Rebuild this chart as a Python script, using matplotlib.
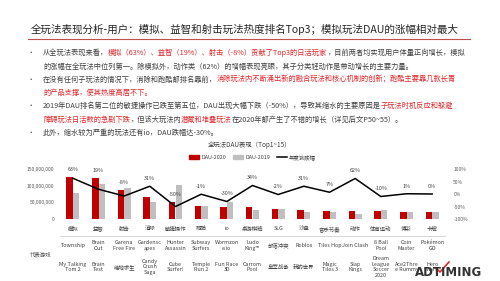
import matplotlib
matplotlib.use("Agg")
import matplotlib.pyplot as plt
from matplotlib.patches import Patch
from matplotlib.lines import Line2D

plt.rcParams['font.family'] = ['Noto Sans CJK SC', 'DejaVu Sans']

W, H = 500, 281
RED = '#C00000'
GRAY = '#BFBFBF'
DARK = '#404040'
TXT_RED = '#E0262B'

# DAU in millions
categories = ['模拟', '益智', '射击', '消除', '敏捷操作', '跑酷', 'io', '桌游棋牌',
              'SLG', '沙盘', '音乐节奏', '动作', '体育运动', '博彩', '卡牌']
dau_2020 = [125, 124, 86, 66, 51, 39, 37, 36, 30, 27, 24, 24, 24, 22, 20]
dau_2019 = [77, 105, 93, 50, 103, 39, 52, 27, 30, 20, 22, 14, 27, 22, 20]
growth = [63, 19, -8, 31, -50, -1, -30, 34, -2, 31, 7, 62, -10, 1, 0]

games_top = ['Township', 'Brain\nOut', 'Garena\nFree Fire', 'Gardensc\napes', 'Hunter\nAssassin',
             'Subway\nSurfers', 'Wormzon\ne.io', 'Ludo\nKing™', '部落冲突', 'Roblox',
             'Tiles Hop', 'Join Clash', '8 Ball\nPool', 'Coin\nMaster', 'Pokémon\nGO']
games_bottom = ['My Talking\nTom 2', 'Brain\nTest', '绝地求生', 'Candy\nCrush\nSaga', 'Cube\nSurfer!',
                'Temple\nRun 2', 'Fun Race\n3D', 'Carrom\nPool', '皇室战争', '我的世界',
                'Magic\nTiles 3', 'Slap\nKings', 'Dream\nLeague\nSoccer\n2020', 'Ace2Thre\ne Rummy',
                'Hero\nWars']

left_ticks = [0, 50e6, 100e6, 150e6]
right_ticks = [-1.0, -0.5, 0.0, 0.5, 1.0]

title = '全玩法表现分析-用户：模拟、益智和射击玩法热度排名Top3；模拟玩法DAU的涨幅相对最大'
bullets = [
    (True, [('从全玩法表现来看，', DARK), ('模拟（63%）、益智（19%）、射击（-8%）贡献了Top3的日活玩家', TXT_RED),
            ('，目前两者均实现用户体量正向增长，模拟', DARK)]),
    (False, [('的涨幅在全玩法中位列第一。除模拟外，动作类（62%）的增幅表现亮眼，其子分类轻动作是带动增长的主要力量。', DARK)]),
    (True, [('在没有任何子玩法的情况下，消除和跑酷都排名靠前，', DARK),
            ('消除玩法内不断涌出新的融合玩法和核心机制的创新；跑酷主要靠几款长青', TXT_RED)]),
    (False, [('的产品支撑，使其热度高居不下。', TXT_RED)]),
    (True, [('2019年DAU排名第二位的敏捷操作已跌至第五位，DAU出现大幅下跌（-50%），导致其缩水的主要原因是', DARK),
            ('子玩法时机反应和躲避', TXT_RED)]),
    (False, [('障碍玩法日活数的急剧下跌', TXT_RED), ('，但该大玩法内', DARK), ('潜藏和堆叠玩法', TXT_RED),
             ('在2020年都产生了不错的增长', DARK), ('（详见后文P50~55）。', DARK)]),
    (True, [('此外，缩水较为严重的玩法还有io，DAU跌幅达-30%。', DARK)]),
]


def fx(x):
    return x / W


def fy(y):
    return 1 - y / H


fig = plt.figure(figsize=(5, 2.81), dpi=100)
fig.patch.set_facecolor('white')
renderer = fig.canvas.get_renderer()

# header
fig.text(fx(31), fy(29), title, fontsize=7.6, color='#262626', va='center', ha='left')
fig.add_artist(Line2D([fx(28), fx(470)], [fy(39), fy(39)], color='#C0504D', lw=0.8))


def rich_line(x, y, parts, size):
    for s, c in parts:
        t = fig.text(fx(x), fy(y), s, color=c, fontsize=size, va='center', ha='left')
        x += t.get_window_extent(renderer=renderer).width


line_y = 53
for has_bullet, parts in bullets:
    if has_bullet:
        fig.text(fx(31), fy(line_y), '•', fontsize=4.5, color=DARK, va='center', ha='center')
    rich_line(43, line_y, parts, 5.2)
    line_y += 13.3

# chart
ax = fig.add_axes([fx(60), fy(219), 385 / W, 50 / H])
x = list(range(len(categories)))
ax.bar([i - 0.125 for i in x], [v * 1e6 for v in dau_2020], width=0.25, color=RED, label='DAU-2020')
ax.bar([i + 0.125 for i in x], [v * 1e6 for v in dau_2019], width=0.25, color=GRAY, label='DAU-2019')
ax.set_xlim(-0.5, len(categories) - 0.5)
ax.set_ylim(0, 150e6)
ax.set_yticks(left_ticks)
ax.set_yticklabels([f'{int(v):,}' for v in left_ticks], fontsize=3.5, color='#595959')
ax.set_xticks([])
ax.tick_params(axis='y', length=0, pad=4)
for s in ax.spines.values():
    s.set_visible(False)

ax2 = ax.twinx()
ax2.plot(x, [g / 100 for g in growth], color='black', lw=1.1)
ax2.set_ylim(-1, 1)
ax2.set_yticks(right_ticks)
ax2.set_yticklabels([f'{int(v * 100)}%' for v in right_ticks], fontsize=3.5, color='#595959')
ax2.tick_params(axis='y', length=0, pad=6)
for s in ax2.spines.values():
    s.set_visible(False)

for i, g in enumerate(growth):
    top = max(g / 100, -1 + 2 * dau_2020[i] / 150)
    ax2.annotate(f'{g}%', (i, top), xytext=(0, 5.5), textcoords='offset points',
                 ha='center', va='center', fontsize=3.9, color='#404040')

tr = ax.get_xaxis_transform()
for i, c in enumerate(categories):
    ax.text(i, -0.2, c, transform=tr, ha='center', va='center', fontsize=3.9, color=DARK)
    ax.text(i, -0.53, games_top[i], transform=tr, ha='center', va='center', fontsize=3.9,
            color=DARK, linespacing=1.15)
    ax.text(i, -0.96, games_bottom[i], transform=tr, ha='center', va='center', fontsize=3.9,
            color=DARK, linespacing=1.15)
ax.plot([-0.5, len(categories) - 0.5], [-0.34, -0.34], transform=tr, color='#D0D0D0', lw=0.6,
        clip_on=False)
fig.text(fx(41), fy(255), '代表游戏', fontsize=3.9, color=DARK, ha='center', va='center')

# chart title + legend
fig.text(fx(250), fy(145), '全玩法DAU表现（Top1~15）', fontsize=4.6, color=DARK, ha='center', va='center')
handles = [Patch(color=RED), Patch(color=GRAY), Line2D([], [], color='black', lw=1.1)]
ax.legend(handles, ['DAU-2020', 'DAU-2019', '年度涨跌幅'], loc='center', bbox_to_anchor=(0.5, 1.24),
          ncol=3, frameon=False, fontsize=3.9, handlelength=1.9, handleheight=0.6,
          columnspacing=1.2, handletextpad=0.4, labelcolor=DARK)

# logo
fig.text(fx(449), fy(272), 'ADTIMING', fontsize=8.5, fontweight='bold', color='#333333',
         ha='center', va='center', family='DejaVu Sans')
fig.add_artist(Line2D([fx(436), fx(440), fx(449)], [fy(268), fy(272), fy(262)], color='#E0262B', lw=1.2))

fig.savefig('out.png', dpi=100, facecolor='white')
